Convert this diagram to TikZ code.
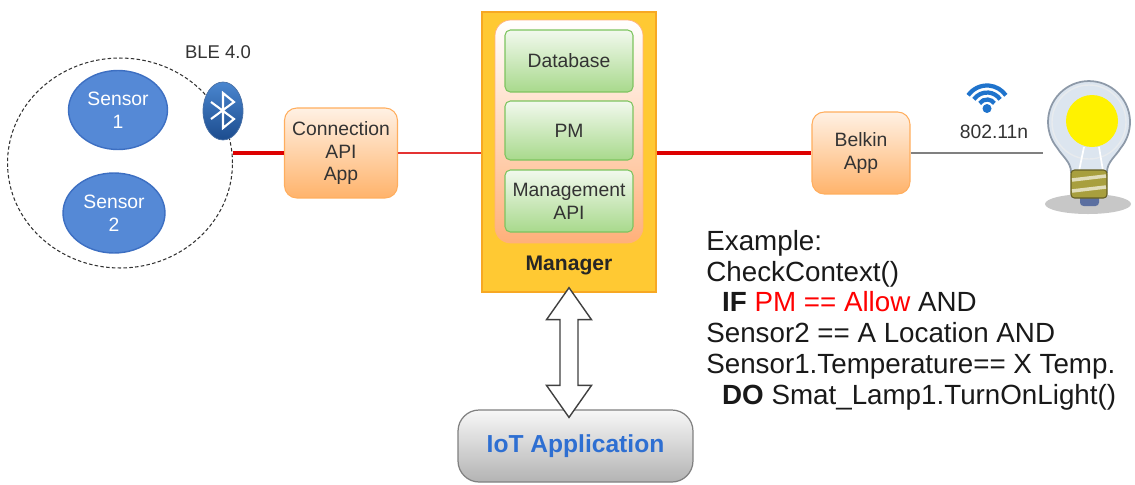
\documentclass[tikz,border=0pt]{standalone}
\usepackage{fontspec}
\setmainfont{Liberation Sans}
\usetikzlibrary{arrows.meta,positioning,calc,shapes.geometric}
\definecolor{ink}{HTML}{333333}
\definecolor{sensorblue}{HTML}{5589D6}
\definecolor{sensoredge}{HTML}{3D6FC2}
\definecolor{btlight}{HTML}{4A86CF}
\definecolor{btdark}{HTML}{1C4C8E}
\definecolor{apptop}{HTML}{FFF1E4}
\definecolor{appbot}{HTML}{FFB36B}
\definecolor{appedge}{HTML}{FFAE5E}
\definecolor{mgrfill}{HTML}{FFC933}
\definecolor{mgredge}{HTML}{F7A823}
\definecolor{corebot}{HTML}{FFB07A}
\definecolor{coreedge}{HTML}{FFB27E}
\definecolor{modtop}{HTML}{F2F9EE}
\definecolor{modbot}{HTML}{A8D98C}
\definecolor{modedge}{HTML}{7DC45F}
\definecolor{linkred}{HTML}{DD0000}
\definecolor{wifiblue}{HTML}{1F73CC}
\definecolor{iottop}{HTML}{F7F7F7}
\definecolor{iotbot}{HTML}{B3B3B3}
\definecolor{iotblue}{HTML}{2E6FD2}
\definecolor{glass}{HTML}{DCE5EF}
\definecolor{glassedge}{HTML}{8D99A8}
\definecolor{screw}{HTML}{A89F3E}
\definecolor{tipblue}{HTML}{5B6FA0}
\tikzset{
  lab/.style={text=ink, font=\fontsize{11}{13}\selectfont, align=center},
  sensor/.style={ellipse, fill=sensorblue, draw=sensoredge, line width=0.8pt, text=white,
    minimum width=1.98cm, minimum height=1.58cm, inner sep=0pt, align=center,
    font=\fontsize{11}{13}\selectfont},
  zone/.style={ellipse, draw=ink, dash pattern=on 2pt off 1.3pt, line width=0.6pt,
    minimum width=4.5cm, minimum height=4.2cm},
  badge/.style={ellipse, top color=btlight, bottom color=btdark, draw=btdark!80,
    minimum width=0.8cm, minimum height=1.16cm},
  appbox/.style={lab, rounded corners=7pt, top color=apptop, bottom color=appbot,
    draw=appedge, line width=0.6pt},
  module/.style={lab, rounded corners=3pt, top color=modtop, bottom color=modbot,
    draw=modedge, line width=0.6pt, minimum width=2.56cm},
  link/.style={linkred, line width=2.3pt},
  thinlink/.style={linkred!80, line width=1.5pt},
  wire/.style={gray, line width=1.1pt},
}

\begin{document}
\begin{tikzpicture}[x=0.02cm, y=-0.02cm]
  \useasboundingbox (0,0) rectangle (1135,484);

  % BLE zone with the two sensors
  \node[zone] (ble) at (120,163) {};
  \node[sensor] (s1) at (118,110) {Sensor\\1};
  \node[sensor, minimum width=2.04cm, minimum height=1.6cm] (s2) at (114,213) {Sensor\\2};
  \node[lab, font=\fontsize{10.5}{12}\selectfont] (bletxt) at (218,52) {BLE 4.0};
  \node[badge] (bt) at (223,111) {};
  \draw[white, line width=1.2pt, line join=miter] ([shift={(-12,8)}]bt.center)
    -- ++(23,-17) -- ++(-11,-9) -- ++(0,35) -- ++(11,-9) -- ++(-23,-17);

  % connection app
  \node[appbox, minimum width=2.26cm, minimum height=1.8cm] (conn) at (341,153) {Connection\\API\\App};
  \draw[link] (conn.west) -- (conn.west -| ble.east);

  % manager block and its modules
  \node[fill=mgrfill, draw=mgredge, line width=0.8pt, minimum width=3.48cm, minimum height=5.6cm] (mgr) at (569,152) {};
  \node[rounded corners=9pt, top color=white, bottom color=corebot, draw=coreedge,
    minimum width=2.96cm, minimum height=4.46cm] (core) at (569,131.5) {};
  \node[module, minimum height=1.24cm] (db) at (569,61) {Database};
  \node[module, minimum height=1.18cm] (pm) at (569,130.5) {PM};
  \node[module, minimum height=1.24cm] (mapi) at (569,201) {Management\\API};
  \node[lab, text=black!85, font=\bfseries\fontsize{12}{14}\selectfont] (mgrtxt) at (569,265) {Manager};
  \draw[thinlink] (conn.east) -- (conn.east -| mgr.west);

  % belkin app and the lamp
  \node[appbox, minimum width=1.96cm, minimum height=1.64cm] (belkin) at (861,153) {Belkin\\App};
  \draw[link] (mgr.east |- belkin.west) -- (belkin.west);
  \coordinate (lamp) at (1043,153);
  \draw[wire] (belkin.east) -- (lamp);

  % wifi mark
  \coordinate (wifi) at (987,108.5);
  \fill[wifiblue] (wifi) circle (4.5);
  \foreach \r in {0.18,0.32,0.46}
    \draw[wifiblue, line width=2.4pt] ($(wifi)+(145:\r cm)$) arc[start angle=145, end angle=35, radius=\r cm];
  \node[lab] (wifitxt) at (994,132) {802.11n};

  % light bulb
  \fill[black!22] (1088,204) ellipse (43 and 10);
  \filldraw[fill=glass, draw=glassedge, line width=1pt] (1071,172)
    .. controls (1071,162) and (1062,156) .. (1057.6,148.4)
    arc[start angle=220, end angle=-40, radius=0.82cm]
    .. controls (1116,156) and (1107,162) .. (1107,172) -- cycle;
  \draw[white!80!glassedge, line width=0.8pt] (1089,122) circle (37);
  \fill[yellow] (1092,121) circle (26);
  \draw[white, line width=1pt] (1084,147) -- (1079,171) (1099,147) -- (1103,171);
  \fill[tipblue, rounded corners=2pt] (1080,194) rectangle (1099,206);
  \filldraw[fill=screw, draw=screw!60!black, line width=0.6pt, rounded corners=2pt] (1071,170) rectangle (1107,198);
  \foreach \y in {178,189}
    \draw[screw!35!white, line width=2pt] (1072,\y+2) -- (1106,\y-2);

  % iot application
  \node[rounded corners=12pt, top color=iottop, bottom color=iotbot, draw=gray, line width=0.7pt,
    minimum width=4.7cm, minimum height=1.44cm, text=iotblue,
    font=\bfseries\fontsize{14}{16}\selectfont] (iot) at (575.5,446) {IoT Application};
  \coordinate (up) at ($(mgr.south)+(0,-5)$);
  \coordinate (dn) at ($(mgr.south |- iot.north)+(0,8)$);
  \draw[fill=white, draw=black!75, line width=0.8pt, line join=miter] (up) -- ++(22.5,32) -- ++(-13.5,0)
    -- ($(dn)+(9,-32)$) -- ++(13.5,0) -- (dn) -- ++(-22.5,-32) -- ++(13.5,0)
    -- ($(up)+(-9,32)$) -- ++(-13.5,0) -- cycle;

  % example rule
  \node[anchor=north west, inner sep=0pt, align=left, text=black!90,
    font=\fontsize{15.8}{17.5}\selectfont] (rule) at (706,230) {Example:\\CheckContext()\\
    \hspace*{9pt}\textbf{IF} \textcolor{red}{PM == Allow} AND\\
    Sensor2 == A Location AND\\
    Sensor1.Temperature== X Temp.\\
    \hspace*{9pt}\textbf{DO} Smat\_Lamp1.TurnOnLight()};
\end{tikzpicture}
\end{document}
